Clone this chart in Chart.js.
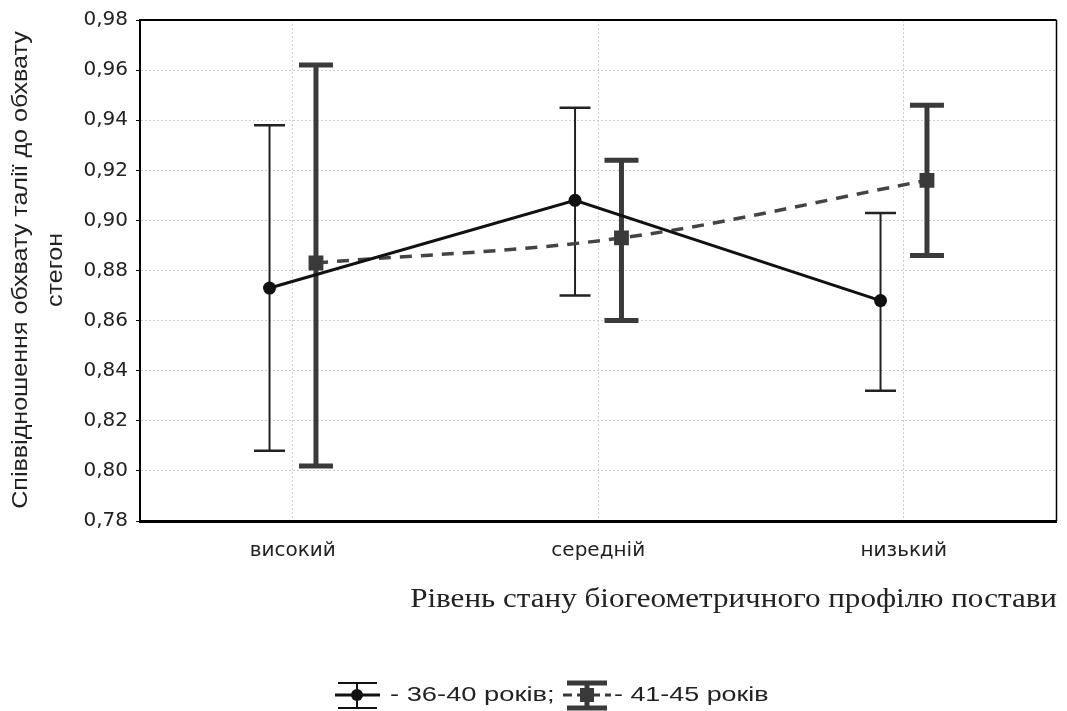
<!DOCTYPE html>
<html>
<head>
<meta charset="utf-8">
<script src="https://cdn.jsdelivr.net/npm/chart.js@4.4.0/dist/chart.umd.min.js"></script>
<style>
  html, body { margin: 0; padding: 0; background: #fff; }
</style>
</head>
<body>
<canvas id="chart" width="1067" height="711"></canvas>
<script>
// categories and values
var categories = ["високий", "середній", "низький"];
var yMin = 0.78, yMax = 0.98, yStep = 0.02;

var s1Name = "- 36-40 років;";
var s1Mean = [0.873, 0.908, 0.868];
var s1Low  = [0.808, 0.870, 0.832];
var s1High = [0.938, 0.945, 0.903];

var s2Name = "- 41-45 років";
var s2Mean = [0.883, 0.893, 0.916];
var s2Low  = [0.802, 0.860, 0.886];
var s2High = [0.962, 0.924, 0.946];

var xTitle = "Рівень стану біогеометричного профілю постави";
var yTitle = ["Співвідношення обхвату талії до обхвату", "стегон"];

// horizontal shift of the two groups around each category
var shift = 0.076;

function pts(mean, d) {
  return mean.map(function (v, i) { return { x: i + d, y: v }; });
}

var bars = [
  { low: s1Low, high: s1High, d: -shift, color: "#222", lw: 2, cw: 31, ct: 2.5 },
  { low: s2Low, high: s2High, d: shift, color: "#3a3a3a", lw: 5, cw: 34, ct: 5 }
];

//error bars, drawn before the lines
var errorBars = {
  id: "errorBars",
  beforeDatasetsDraw: function (chart) {
    var ctx = chart.ctx, xs = chart.scales.x, ys = chart.scales.y;
    ctx.save();
    bars.forEach(function (b) {
      ctx.strokeStyle = b.color;
      for (var i = 0; i < categories.length; i++) {
        var x = xs.getPixelForValue(i + b.d);
        var y1 = ys.getPixelForValue(b.high[i]);
        var y2 = ys.getPixelForValue(b.low[i]);
        ctx.lineWidth = b.lw;
        ctx.beginPath(); ctx.moveTo(x, y1); ctx.lineTo(x, y2); ctx.stroke();
        ctx.lineWidth = b.ct;
        ctx.beginPath();
        ctx.moveTo(x - b.cw / 2, y1); ctx.lineTo(x + b.cw / 2, y1);
        ctx.moveTo(x - b.cw / 2, y2); ctx.lineTo(x + b.cw / 2, y2);
        ctx.stroke();
      }
    });
    ctx.restore();
  }
};

// text drawn wider than the font, like the source picture
function wideText(ctx, txt, x, y, sx) {
  ctx.save();
  ctx.translate(x, y);
  ctx.scale(sx, 1);
  ctx.fillText(txt, 0, 0);
  ctx.restore();
}

//frame, axis titles and legend
var extras = {
  id: "extras",
  afterDraw: function (chart) {
    var ctx = chart.ctx, a = chart.chartArea;
    ctx.save();
    ctx.strokeStyle = "#000";
    ctx.lineWidth = 2;
    ctx.beginPath(); ctx.moveTo(a.left, a.top); ctx.lineTo(a.right, a.top); ctx.stroke();
    ctx.lineWidth = 1.5;
    ctx.beginPath(); ctx.moveTo(a.right, a.top); ctx.lineTo(a.right, a.bottom); ctx.stroke();

    ctx.fillStyle = "#222";
    ctx.font = "22px 'Liberation Sans', Arial, sans-serif";
    ctx.textAlign = "center";
    ctx.textBaseline = "middle";
    ctx.save();
    ctx.translate(21, 270);
    ctx.rotate(-Math.PI / 2);
    wideText(ctx, yTitle[0], 0, 0, 1.14);
    wideText(ctx, yTitle[1], 0, 35, 1.14);
    ctx.restore();

    ctx.font = "28px 'Liberation Serif', 'Times New Roman', serif";
    ctx.textAlign = "right";
    wideText(ctx, xTitle, 1057, 600, 1.11);

    // legend
    var ly = 695;
    ctx.strokeStyle = "#111";
    ctx.lineWidth = 3;
    ctx.beginPath(); ctx.moveTo(335, ly); ctx.lineTo(380, ly); ctx.stroke();
    ctx.lineWidth = 2;
    ctx.beginPath();
    ctx.moveTo(357, 683); ctx.lineTo(357, 708);
    ctx.moveTo(338, 683); ctx.lineTo(377, 683);
    ctx.moveTo(338, 708); ctx.lineTo(377, 708);
    ctx.stroke();
    ctx.fillStyle = "#111";
    ctx.beginPath(); ctx.arc(357, ly, 6, 0, Math.PI * 2); ctx.fill();

    ctx.strokeStyle = "#3a3a3a";
    ctx.lineWidth = 3;
    ctx.setLineDash([9, 5]);
    ctx.beginPath(); ctx.moveTo(563, ly); ctx.lineTo(611, ly); ctx.stroke();
    ctx.setLineDash([]);
    ctx.lineWidth = 5;
    ctx.beginPath();
    ctx.moveTo(587, 683); ctx.lineTo(587, 708);
    ctx.moveTo(567, 683); ctx.lineTo(607, 683);
    ctx.moveTo(567, 708); ctx.lineTo(607, 708);
    ctx.stroke();
    ctx.fillStyle = "#3a3a3a";
    ctx.fillRect(580, ly - 7, 14, 14);

    ctx.fillStyle = "#222";
    ctx.font = "21px 'Liberation Sans', Arial, sans-serif";
    ctx.textAlign = "left";
    wideText(ctx, s1Name, 390, ly, 1.3);
    wideText(ctx, s2Name, 614, ly, 1.28);
    ctx.restore();
  }
};

var gridColor = "#cfcfcf";
var gridDash = [2, 2];

var chart = new Chart(document.getElementById("chart"), {
  type: "line",
  data: {
    datasets: [
      {
        label: s1Name,
        data: pts(s1Mean, -shift),
        borderColor: "#111",
        backgroundColor: "#111",
        borderWidth: 3,
        pointStyle: "circle",
        pointRadius: 6.5,
        pointBackgroundColor: "#111",
        pointBorderWidth: 0,
        tension: 0
      },
      {
        label: s2Name,
        data: pts(s2Mean, shift),
        borderColor: "#444",
        backgroundColor: "#3a3a3a",
        borderWidth: 3.5,
        borderDash: [12, 9],
        pointStyle: "rect",
        pointRadius: 10.5,
        pointBackgroundColor: "#3a3a3a",
        pointBorderWidth: 0,
        tension: 0.35
      }
    ]
  },
  options: {
    responsive: false,
    animation: false,
    layout: { padding: { top: 20, right: 7, left: 0, bottom: 0 } },
    plugins: {
      legend: { display: false },
      tooltip: { enabled: false }
    },
    scales: {
      x: {
        type: "linear",
        min: -0.5,
        max: categories.length - 0.5,
        afterBuildTicks: function (scale) {
          scale.ticks = categories.map(function (c, i) { return { value: i }; });
        },
        afterFit: function (scale) { scale.height = 190; },
        ticks: {
          padding: 18,
          color: "#222",
          font: { family: "'DejaVu Sans', sans-serif", size: 20 },
          maxRotation: 0,
          callback: function (v) { return categories[v]; }
        },
        grid: {
          color: gridColor,
          drawTicks: false
        },
        border: { color: "#000", width: 3, dash: gridDash }
      },
      y: {
        min: yMin,
        max: yMax,
        afterFit: function (scale) { scale.width = 140; },
        ticks: {
          stepSize: yStep,
          padding: 8,
          color: "#222",
          font: { family: "'DejaVu Sans', sans-serif", size: 20 },
          callback: function (v) { return v.toFixed(2).replace(".", ","); }
        },
        grid: {
          color: gridColor,
          tickColor: "#000",
          tickLength: 4,
          tickBorderDash: []
        },
        border: { color: "#000", width: 2, dash: gridDash }
      }
    }
  },
  plugins: [errorBars, extras]
});
</script>
</body>
</html>
